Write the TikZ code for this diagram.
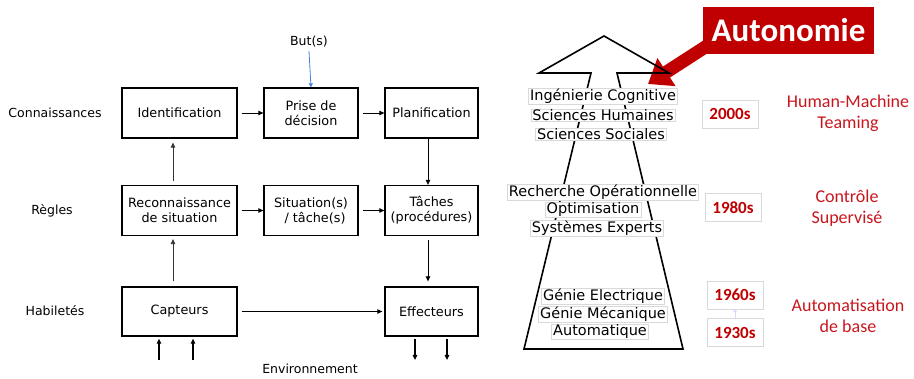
\documentclass[tikz,border=0pt]{standalone}
\usepackage{fontspec}
\setmainfont{DejaVu Sans}
\newfontfamily\carlito{Carlito}
\usetikzlibrary{arrows.meta,backgrounds,calc}
\definecolor{redA}{HTML}{C00000}
\definecolor{redT}{HTML}{C8161E}
\definecolor{butblue}{HTML}{4A7FD8}
\tikzset{
  x=1pt,y=-1pt,
  box/.style={draw,line width=1.3pt,minimum height=50pt,align=center,inner sep=0pt,
    font=\fontsize{12.8}{15}\selectfont},
  lbl/.style={font=\fontsize{12.5}{15}\selectfont},
  flow/.style={-{Triangle[length=5pt,width=4.5pt]},line width=0.8pt},
  stack/.style={fill=white,draw=black!15,line width=0.4pt,inner xsep=1.5pt,inner ysep=0.5pt,
    font=\fontsize{14.5}{17}\selectfont},
  year/.style={fill=white,draw=black!15,line width=0.5pt,minimum width=56pt,minimum height=28pt,
    inner sep=0pt,text=redA,font=\carlito\bfseries\fontsize{17}{19}\selectfont},
  era/.style={text=redT,align=center,font=\carlito\fontsize{18}{21}\selectfont}
}
\begin{document}
\begin{tikzpicture}
\useasboundingbox (0,0) rectangle (914,379);
% ---------- left diagram ----------
\node[box,minimum width=115pt] (id)  at (179.5,113) {Identification};
\node[box,minimum width=94pt]  (pd)  at (311,113) {Prise de\\décision};
\node[box,minimum width=93pt]  (pl)  at (431.5,113) {Planification};
\node[box,minimum width=115pt] (rs)  at (179.5,210.5) {Reconnaissance\\de situation};
\node[box,minimum width=94pt]  (st)  at (311,210.5) {Situation(s)\\\ \ / tâche(s)};
\node[box,minimum width=93pt]  (ta)  at (431.5,210.5) {Tâches\\(procédures)};
\node[box,minimum width=115pt,minimum height=49pt] (ca) at (179.5,311.5) {Capteurs};
\node[box,minimum width=93pt,minimum height=49pt]  (ef) at (431.5,311.5) {Effecteurs};

\node[lbl] (kn) at (55,113) {Connaissances};
\node[lbl] (rg) at (52,211) {Règles};
\node[lbl] (hb) at (55,311) {Habiletés};
\node[lbl] (env) at (310,369) {Environnement};
\node[lbl] (but) at (309,42) {But(s)};

\draw[flow,shorten <=4pt] (id) -- (pd);
\draw[flow,shorten <=4pt] (pd) -- (pl);
\draw[flow,shorten <=4pt] (rs) -- (st);
\draw[flow,shorten <=4pt] (st) -- (ta);
\draw[flow,shorten <=4pt,shorten >=2pt] (ca) -- (ef);
\draw[flow,shorten >=4pt,shorten <=4pt,draw=black!80] ([xshift=-6.5pt]rs.north) -- ([xshift=-6.5pt]id.south);
\draw[flow,shorten >=3pt,shorten <=5pt,draw=black!80] ([xshift=-6.5pt]ca.north) -- ([xshift=-6.5pt]rs.south);
\draw[flow] ([xshift=-3.5pt]pl.south) -- ([xshift=-3.5pt]ta.north);
\draw[flow,shorten >=5pt,shorten <=4pt] ([xshift=-3.5pt]ta.south) -- ([xshift=-3.5pt]ef.north);
\draw[-{Triangle[length=4pt,width=4pt]},butblue,line width=0.8pt] (but.south) -- (pd.north);

\coordinate (c1) at (159,360);
\coordinate (c2) at (193,360);
\coordinate (e1) at (415,360);
\coordinate (e2) at (447,360);
\draw[flow,line width=1.1pt,shorten >=2pt] (c1) -- (c1 |- ca.south);
\draw[flow,line width=1.1pt,shorten >=2pt] (c2) -- (c2 |- ca.south);
\draw[flow,line width=1.1pt,shorten <=2pt] (e1 |- ef.south) -- (e1);
\draw[flow,line width=1.1pt,shorten <=2pt] (e2 |- ef.south) -- (e2);

% ---------- right diagram ----------
\draw[line width=1.6pt,line join=miter] (524,349) -- (591,73) -- (539,73) -- (604,36) -- (669,73) -- (617,73) -- (683,349) -- cycle;

\node[stack] (s1) at (603,96)  {Ingénierie Cognitive};
\node[stack] (s2) at (603,115) {Sciences Humaines};
\node[stack] (s3) at (601,134) {Sciences Sociales};
\node[stack] (s4) at (603,192) {Recherche Opérationnelle};
\node[stack] (s5) at (593,210) {Optimisation};
\node[stack] (s6) at (597,228) {Systèmes Experts};
\node[stack] (s7) at (603,296) {Génie Electrique};
\node[stack] (s8) at (603,314) {Génie Mécanique};
\node[stack] (s9) at (600,332) {Automatique};

\node[year] (y2000) at (730,114) {2000s};
\node[year] (y1980) at (733,207.5) {1980s};
\node[year] (y1960) at (735,295) {1960s};
\node[year] (y1930) at (735,332.5) {1930s};
\draw[-{Triangle[length=3pt,width=4pt]},blue!15,line width=0.8pt] (y1930.north) -- (y1960.south);

\node[era] (hm) at (848,113) {Human-Machine\\Teaming};
\node[era] (cs) at (847,208) {Contrôle\\Supervisé};
\node[era] (ab) at (848,316) {Automatisation\\de base};

\node[fill=redA,text=white,minimum width=171pt,minimum height=47pt,inner sep=0pt,
  font=\carlito\bfseries\fontsize{33}{36}\selectfont] (auto) at (788.5,30.5) {Autonomie};
\coordinate (tip) at (648,84);
\begin{pgfonlayer}{background}
\draw[redA,line width=13pt,-{Triangle[length=22pt,width=32pt]}] ($(auto.south west)+(30,-25)$) -- (tip);
\end{pgfonlayer}
\end{tikzpicture}
\end{document}
